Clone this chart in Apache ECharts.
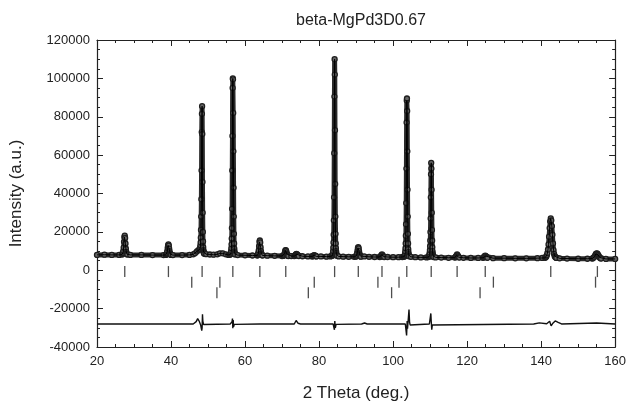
<!DOCTYPE html>
<html>
<head>
<meta charset="utf-8">
<script src="https://cdn.jsdelivr.net/npm/echarts@6/dist/echarts.min.js"></script>
<style>html,body{margin:0;padding:0;background:#fff}#c{width:629px;height:408px}</style>
</head>
<body>
<div id="c"></div>
<script>
// ---------- data ----------
const titleText = 'beta-MgPd3D0.67';
const xTicks = [20, 40, 60, 80, 100, 120, 140, 160];
const yTicks = [-40000, -20000, 0, 20000, 40000, 60000, 80000, 100000, 120000];

// background points of the observed pattern (2θ, intensity)
const bgPoints = [[20,8000],[22,8100],[24,8000],[26,8000],[29,8000],[32,8000],[35,7900],[38,7900],[40.5,7900],[43,7900],[45,8000],[46,8300],[46.5,8800],[47,9800],[47.4,10500],[47.7,10800],[49.5,8400],[50.5,8200],[51.5,8100],[52.5,8300],[53.2,8800],[54,8800],[54.8,8300],[55.5,8000],[55.9,8100],[58,7900],[60,7800],[62,7700],[66,7600],[68,7500],[70,7400],[72.5,7400],[75.5,7300],[77,7200],[80.5,7200],[82,7100],[83,7200],[83.4,7400],[85.3,7200],[86.5,7100],[88,7000],[89.5,7000],[92.2,7200],[93.5,7000],[95,6900],[98.5,6900],[100,6800],[101.5,6800],[102.5,6900],[102.9,7000],[104.8,7000],[106,6800],[107.5,6700],[109,6700],[109.5,6900],[111.5,6700],[113,6600],[115,6500],[119,6500],[121,6400],[123,6400],[127,6300],[130,6300],[133,6200],[136,6200],[139,6300],[140.3,6400],[145,6200],[147,6100],[150,6000],[152.5,6000],[157.5,5900],[160,5900]];

// peak segments: first 2θ, step, intensities
const peakStart = [26.8, 38.6, 47.8, 56.1, 63.3, 70.3, 73.3, 78.1, 83.6, 89.9, 96.4, 103.1, 109.7, 116.7, 124.3, 141.1, 153.8];
const peakStep  = [0.1, 0.1, 0.05, 0.05, 0.1, 0.1, 0.15, 0.15, 0.05, 0.1, 0.15, 0.05, 0.05, 0.15, 0.15, 0.15, 0.2];
const peakValues = [
  [8200,8500,9000,10000,11800,14800,17300,18000,16800,14000,11200,9600,8800,8400,8200],
  [8000,8200,8500,9000,10000,11600,13000,13500,12800,11300,9900,8900,8400,8100,8000],
  [11000,11300,12000,13000,14500,17000,21000,28000,37000,52000,72000,81500,85500,71000,46000,30000,20000,15000,12000,10500,9800,9300,9000,8800,8600],
  [8300,8700,9200,10000,11500,13500,16500,22000,32000,52000,70000,95000,100000,99500,82000,62000,43000,28000,19000,14000,11200,9800,9000,8500,8200],
  [7700,7900,8300,9000,10300,12500,14800,15500,14500,12000,10000,8800,8200,7900,7700],
  [7500,7600,7800,8100,8700,9500,10300,10500,10100,9300,8500,8000,7700,7500,7400],
  [7400,7600,7900,8300,8500,8300,7900,7600,7400],
  [7200,7300,7500,7700,7800,7700,7500,7300,7200],
  [7600,7900,8300,9000,10000,11800,14500,18500,26000,38000,61000,90500,110000,102000,73000,45000,28000,19000,14000,11500,10000,9000,8300,7900,7500],
  [7100,7300,7600,8100,9000,10400,11700,12000,11400,10000,8800,8000,7500,7200,7100],
  [6900,7100,7400,7900,8200,7900,7400,7100,6900],
  [7200,7500,8000,8700,9800,11500,14000,18000,24000,35000,53000,77000,88500,89500,83000,62000,42000,28000,19000,14000,11000,9400,8400,7800,7300],
  [7000,7300,7700,8300,9200,10500,12500,15500,20000,27000,38000,50000,56000,53000,42000,30000,21000,15500,12000,10000,8800,8000,7500,7100,6900],
  [6600,6800,7200,7800,8200,7800,7200,6800,6600],
  [6500,6700,7000,7400,7600,7400,7000,6700,6500],
  [6500,6800,7200,7900,9000,10800,13500,17500,22000,25500,27000,26000,23000,18500,14000,10500,8500,7400,6900,6600,6400],
  [6100,6300,6600,7100,7800,8500,8800,8600,8000,7300,6700,6300,6100]
];

// difference curve (obs - calc, offset)
const diffPoints = [[20,-28000],[27.3,-28000],[27.5,-27300],[27.7,-28300],[28,-28000],[39.2,-28000],[39.4,-27600],[39.6,-28200],[40,-28000],[46,-28000],[46.8,-26800],[47.2,-25200],[47.6,-26500],[48.0,-28500],[48.3,-31500],[48.4,-30000],[48.5,-23000],[48.6,-26500],[48.8,-28300],[49.2,-28000],[56,-28000],[56.5,-26800],[56.6,-25200],[56.7,-30200],[56.8,-26000],[56.9,-29500],[57.1,-28200],[57.5,-28000],[64,-28000],[64.2,-27500],[64.4,-28000],[73.3,-28000],[73.8,-26200],[74.3,-27600],[75,-28000],[83.8,-28000],[84.0,-27000],[84.15,-31000],[84.25,-26500],[84.4,-30000],[84.6,-28200],[85,-28000],[91.5,-28000],[92.3,-27500],[93,-28000],[103.3,-28000],[103.5,-27000],[103.65,-34000],[103.8,-26500],[103.9,-30500],[104.3,-20500],[104.45,-27000],[104.6,-28500],[105,-28000],[109.8,-28000],[110.1,-27000],[110.2,-22500],[110.3,-26500],[110.45,-31000],[110.6,-28500],[111,-28000],[138,-28000],[139.5,-27400],[141.5,-27900],[142.3,-26600],[142.7,-29000],[143.1,-27800],[143.8,-26400],[144.6,-27200],[145.5,-28000],[155.0,-27500],[155.3,-28100],[160,-28000]];

// Bragg reflection positions, three rows
const braggRow1 = [27.5, 39.3, 48.4, 56.7, 64.0, 71.0, 84.2, 90.6, 97.0, 103.7, 110.3, 117.3, 124.9, 142.6, 155.2];
const braggRow2 = [45.6, 53.2, 78.7, 95.9, 101.6, 127.1, 154.7];
const braggRow3 = [52.4, 77.1, 99.6, 123.5];
const braggLevel = [-700, -6200, -11700];

// ---------- build series ----------
const ranges = peakStart.map((s, i) => [s - 1e-6, s + peakStep[i] * (peakValues[i].length - 1) + 1e-6]);
let obs = [];
peakValues.forEach((vals, i) => {
  vals.forEach((v, j) => obs.push([+(peakStart[i] + j * peakStep[i]).toFixed(3), v]));
});
bgPoints.forEach(p => {
  if (!ranges.some(r => p[0] >= r[0] && p[0] <= r[1])) obs.push(p);
});
obs.sort((a, b) => a[0] - b[0]);

const tickData = [].concat(
  braggRow1.map(x => [x, braggLevel[0]]),
  braggRow2.map(x => [x, braggLevel[1]]),
  braggRow3.map(x => [x, braggLevel[2]])
);

const font = 'Liberation Sans, Arial, Helvetica, sans-serif';
const ink = '#222';
const chart = echarts.init(document.getElementById('c'), null, {renderer: 'canvas'});
const axisCommon = {
  axisLine: {show: true, onZero: false, lineStyle: {color: ink, width: 1.2}},
  axisTick: {show: true, inside: true, length: 6, lineStyle: {color: ink, width: 1}},
  minorTick: {show: true, splitNumber: 4, length: 3, lineStyle: {color: ink, width: 1}},
  splitLine: {show: false}
};
const plain = v => String(v);
chart.setOption({
  animation: false,
  backgroundColor: '#fff',
  title: {text: titleText, left: 356, top: 8, textAlign: 'center',
    textStyle: {fontFamily: font, fontSize: 16, fontWeight: 'normal', color: ink}},
  grid: {left: 95, right: 12, top: 40, bottom: 61},
  xAxis: [
    Object.assign({type: 'value', min: xTicks[0], max: xTicks[xTicks.length - 1], interval: 20,
      name: '2 Theta (deg.)', nameLocation: 'middle', nameGap: 38,
      nameTextStyle: {fontFamily: font, fontSize: 17, color: ink},
      axisLabel: {fontFamily: font, fontSize: 13, color: ink, margin: 8, formatter: plain}}, axisCommon),
    Object.assign({type: 'value', position: 'top', min: xTicks[0], max: xTicks[xTicks.length - 1], interval: 20,
      axisLabel: {show: false}}, axisCommon)
  ],
  yAxis: [
    Object.assign({type: 'value', min: yTicks[0], max: yTicks[yTicks.length - 1], interval: 20000,
      name: 'Intensity (a.u.)', nameLocation: 'middle', nameGap: 72, nameRotate: 90,
      nameTextStyle: {fontFamily: font, fontSize: 17, color: ink},
      axisLabel: {fontFamily: font, fontSize: 13, color: ink, margin: 7, formatter: plain}}, axisCommon),
    Object.assign({type: 'value', position: 'right', min: yTicks[0], max: yTicks[yTicks.length - 1], interval: 20000,
      axisLabel: {show: false}}, axisCommon)
  ],
  series: [
    {type: 'line', data: obs, showSymbol: true, showAllSymbol: true, symbol: 'circle', symbolSize: 5,
      lineStyle: {color: '#2a2a2a', width: 5},
      itemStyle: {color: '#666', borderColor: '#1e1e1e', borderWidth: 1.3}, z: 2},
    {type: 'line', data: obs, showSymbol: false, lineStyle: {color: '#000', width: 1}, z: 3},
    {type: 'line', data: diffPoints, showSymbol: false, lineStyle: {color: '#111', width: 1.4}, z: 3},
    {type: 'scatter', data: tickData, symbol: 'rect', symbolSize: [1.3, 11],
      itemStyle: {color: '#222'}, z: 3}
  ]
});
</script>
</body>
</html>
